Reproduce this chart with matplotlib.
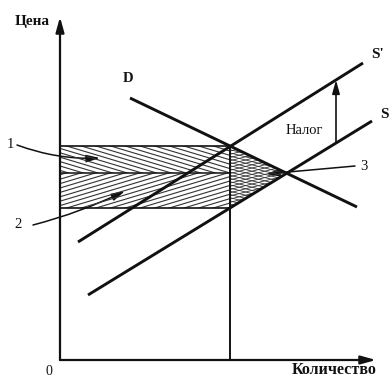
import numpy as np
import matplotlib
matplotlib.use("Agg")
import matplotlib.pyplot as plt
from matplotlib.patches import Polygon, FancyArrowPatch

# ---- data (in axis units) ----
demand_q = [70, 297]
demand_p = [262, 153]
supply_q = [28, 312]
supply_p = [65, 239]
supply_tax_q = [18, 303]
supply_tax_p = [118, 297]
tax_arrow_q = 276

axis_labels = ["Цена", "Количество"]
curve_labels = ["D", "S'", "S"]
area_labels = ["1", "2", "3"]
tax_label = "Налог"


def line_coef(q, p):
    k = (p[1] - p[0]) / (q[1] - q[0])
    return k, p[0] - k * q[0]


def intersect(a, b):
    k1, b1 = line_coef(*a)
    k2, b2 = line_coef(*b)
    x = (b2 - b1) / (k1 - k2)
    return x, k1 * x + b1


D = (demand_q, demand_p)
S = (supply_q, supply_p)
St = (supply_tax_q, supply_tax_p)
q_tax, p_buyer = intersect(D, St)
q0, p0 = intersect(D, S)
ks, bs = line_coef(*S)
p_seller = ks * q_tax + bs
kt, bt = line_coef(*St)

plt.rcParams['font.family'] = ['Liberation Serif', 'DejaVu Serif']
fig = plt.figure(figsize=(3.89, 3.78), dpi=100)
ax = fig.add_axes([0, 0, 1, 1])
ax.set_xlim(-60, 329)
ax.set_ylim(-18, 360)
ax.axis('off')

col = '#111111'

# custom hatching helper
def hatch(poly_xy, slope, spacing, lw=0.8, color='#333333'):
    poly = Polygon(poly_xy, closed=True, facecolor='none', edgecolor='none')
    ax.add_patch(poly)
    xs = np.array([-100, 400])
    for c in np.arange(-400, 600, spacing):
        ln, = ax.plot(xs, c + slope * xs, color=color, lw=lw, solid_capstyle='butt')
        ln.set_clip_path(poly)

# area 1 (between buyer price and old price)
hatch([(0, p0), (q_tax, p0), (q_tax, p_buyer), (0, p_buyer)], -0.3, 4.4)
# area 2 (between old price and seller price)
hatch([(0, p_seller), (q_tax, p_seller), (q_tax, p0), (0, p0)], 0.3, 4.4)
# area 3 triangle (cross)
tri = [(q_tax, p_buyer), (q_tax, p_seller), (q0, p0)]
hatch(tri, 0.25, 3.2, lw=0.6)
hatch(tri, -0.25, 3.2, lw=0.6)

# rectangle borders
ax.plot([0, q_tax], [p_buyer, p_buyer], color=col, lw=1.2)
ax.plot([0, q_tax], [p0, p0], color=col, lw=1.1)
ax.plot([0, q_tax], [p_seller, p_seller], color=col, lw=1.2)
ax.plot([q_tax, q_tax], [0, p_buyer], color=col, lw=1.4)

# curves
ax.plot(demand_q, demand_p, color=col, lw=2.1, solid_capstyle='butt')
ax.plot(supply_q, supply_p, color=col, lw=2.1, solid_capstyle='butt')
ax.plot(supply_tax_q, supply_tax_p, color=col, lw=2.1, solid_capstyle='butt')

# axes with arrows
ap = dict(arrowstyle='-|>,head_length=0.9,head_width=0.25', color=col, lw=1.6,
          shrinkA=0, shrinkB=0, mutation_scale=10)
ax.annotate('', xy=(0, 343), xytext=(0, 0), arrowprops=ap)
ax.annotate('', xy=(316, 0), xytext=(0, 0), arrowprops=ap)

# tax arrow
ap2 = dict(arrowstyle='-|>,head_length=0.9,head_width=0.25', color=col, lw=1.2,
           shrinkA=0, shrinkB=0, mutation_scale=9)
ax.annotate('', xy=(tax_arrow_q, kt * tax_arrow_q + bt),
            xytext=(tax_arrow_q, ks * tax_arrow_q + bs), arrowprops=ap2)

# labels
ax.text(-28, 338, axis_labels[0], ha='center', va='center', fontsize=11,
        fontweight='bold', color=col)
ax.text(274, -10.5, axis_labels[1], ha='center', va='center', fontsize=11.5,
        fontweight='bold', color=col)
ax.text(-11, -11.5, "0", ha='center', va='center', fontsize=10, color=col)
ax.text(68, 281, curve_labels[0], ha='center', va='center', fontsize=10.5,
        fontweight='bold', color=col)
ax.text(318, 305, curve_labels[1], ha='center', va='center', fontsize=11,
        fontweight='bold', color=col)
ax.text(324, 246, curve_labels[2], ha='center', va='center', fontsize=11,
        fontweight='bold', color=col)
ax.text(244, 229, tax_label, ha='center', va='center', fontsize=10.5, color=col)
ax.text(-50, 215, area_labels[0], ha='center', va='center', fontsize=10.5, color=col)
ax.text(-42, 136, area_labels[1], ha='center', va='center', fontsize=10.5, color=col)
ax.text(304, 193, area_labels[2], ha='center', va='center', fontsize=10.5, color=col)

# pointer arrows
ap3 = dict(arrowstyle='-|>,head_length=0.8,head_width=0.22', color=col, lw=1.1,
           shrinkA=0, shrinkB=0, mutation_scale=10)
a1 = FancyArrowPatch((-43, 215), (40, 202), connectionstyle='arc3,rad=0.1', **ap3)
a2 = FancyArrowPatch((-27, 135), (65, 169), connectionstyle='arc3,rad=0.05', **ap3)
a3 = FancyArrowPatch((295, 194), (206, 186), connectionstyle='arc3,rad=0.0', **ap3)
for a in (a1, a2, a3):
    ax.add_patch(a)

fig.savefig('out.png', dpi=100)
